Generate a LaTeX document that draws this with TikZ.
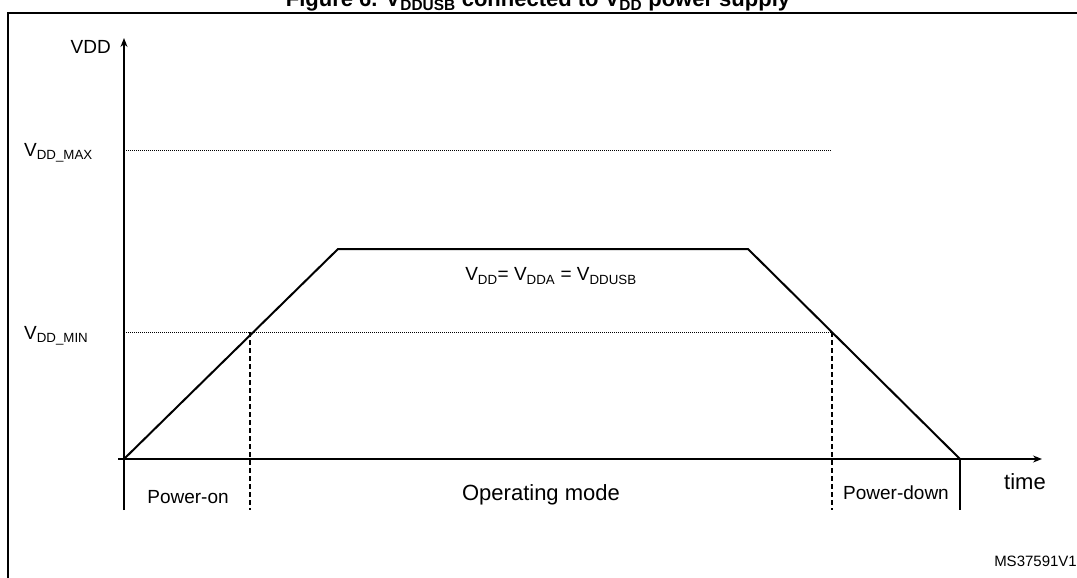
\documentclass[tikz,border=0pt]{standalone}
\usepackage{fontspec}
\setmainfont{Liberation Sans}
\usetikzlibrary{arrows.meta}
\begin{document}
\begin{tikzpicture}[x=1pt,y=-1pt,
  axis/.style={line width=1.3pt,-{Stealth[length=9pt,width=7pt]}},
  solid line/.style={line width=2pt},
  dotline/.style={line width=1pt,dash pattern=on 1pt off 1pt},
  dashline/.style={line width=1.3pt,dash pattern=on 5pt off 3pt},
  lbl/.style={font=\fontsize{19}{21}\selectfont,inner sep=0pt}]
\useasboundingbox (0,0) rectangle (1077,578);
\fill[white] (0,0) rectangle (1077,578);
\node[font=\bfseries\fontsize{22}{24}\selectfont,anchor=base] (title) at (538,7) {Figure 6. V\textsubscript{DDUSB} connected to V\textsubscript{DD} power supply};
\draw[line width=2pt] (8,590) -- (8,13) -- (1090,13);
\coordinate (o) at (124,459);
\coordinate (ytop) at (124,38);
\coordinate (xend) at (1042,459);
\draw[axis] (124,510) -- (ytop);
\draw[line width=1.3pt] (118,459) -- (o);
\draw[axis] (o) -- (xend);
\node[lbl,anchor=east] (vdd) at (111,47) {VDD};
\node[lbl,anchor=west] (vmax) at (24,153) {V\textsubscript{DD\_MAX}};
\node[lbl,anchor=west] (vmin) at (24,336) {V\textsubscript{DD\_MIN}};
\coordinate (max0) at (124,150); \coordinate (max1) at (832,150);
\coordinate (min0) at (124,332); \coordinate (min1) at (832,332);
\draw[dotline] (max0) -- (max1);
\draw[dotline] (min0) -- (min1);
\coordinate (p1) at (338,249); \coordinate (p2) at (748,249); \coordinate (p3) at (960,459);
\draw[solid line,line join=round] (o) -- (p1) -- (p2) -- (p3);
\draw[line width=1.5pt] (p3) -- (960,510);
\coordinate (d1) at (250,332); \coordinate (d2) at (832,332);
\draw[dashline] (d1) -- (250,510);
\draw[dashline] (d2) -- (832,510);
\node[lbl] (eq) at (551,276) {V\textsubscript{DD}= V\textsubscript{DDA} = V\textsubscript{DDUSB}};
\node[lbl] (pon) at (188,497) {Power-on};
\node[lbl,font=\fontsize{22}{24}\selectfont] (op) at (541,495) {Operating mode};
\node[lbl] (pdn) at (896,493) {Power-down};
\node[lbl,font=\fontsize{22}{24}\selectfont] (time) at (1025,482) {time};
\node[lbl,font=\fontsize{15}{17}\selectfont,anchor=east] (ms) at (1077,561) {MS37591V1};
\end{tikzpicture}
\end{document}
